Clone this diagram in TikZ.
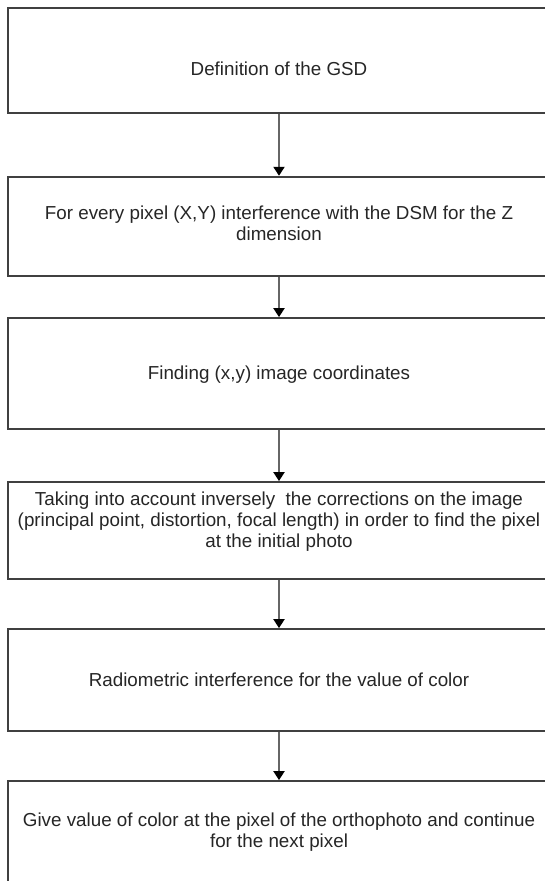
\documentclass[tikz,border=0pt]{standalone}
\usepackage{fontspec}
\setmainfont{Liberation Sans}
\usetikzlibrary{arrows.meta}
\begin{document}
\begin{tikzpicture}[x=1pt,y=-1pt,
  box/.style={draw=black!75, line width=1.8pt, rectangle, minimum width=542pt, inner sep=0pt},
  txt/.style={font=\fontsize{18.8}{21}\selectfont, text=black!85, align=center, anchor=base, inner sep=0pt},
  arr/.style={draw=black!60, line width=2pt, -{Triangle[width=11pt,length=9pt,color=black]}}]
\useasboundingbox (0,0) rectangle (545,881);
\fill[white] (0,0) rectangle (545,881);
\node[box, minimum height=105.4pt] (b1) at (279,60.3) {};
\node[box, minimum height=99.3pt] (b2) at (279,226.35) {};
\node[box, minimum height=111pt] (b3) at (279,373.5) {};
\node[box, minimum height=97pt] (b4) at (279,530.5) {};
\node[box, minimum height=102pt] (b5) at (279,680) {};
\node[box, minimum height=200pt] (b6) at (279,881) {};
\node[txt] (t1) at (279,75.8) {Definition of the GSD};
\node[txt] (t2) at (279,240) {For every pixel (X,Y) interference with the DSM for the Z\\dimension};
\node[txt] (t3) at (279,379) {Finding (x,y) image coordinates};
\node[txt] (t4) at (279,547) {Taking into account inversely~ the corrections on the image\\(principal point, distortion, focal length) in order to find the pixel\\at the initial photo};
\node[txt] (t5) at (279,686) {Radiometric interference for the value of color};
\node[txt] (t6) at (279,847) {Give value of color at the pixel of the orthophoto and continue\\for the next pixel};
\draw[arr] (b1.south) -- (b2.north);
\draw[arr] (b2.south) -- (b3.north);
\draw[arr] (b3.south) -- (b4.north);
\draw[arr] (b4.south) -- (b5.north);
\draw[arr] (b5.south) -- (b6.north);
\end{tikzpicture}
\end{document}
